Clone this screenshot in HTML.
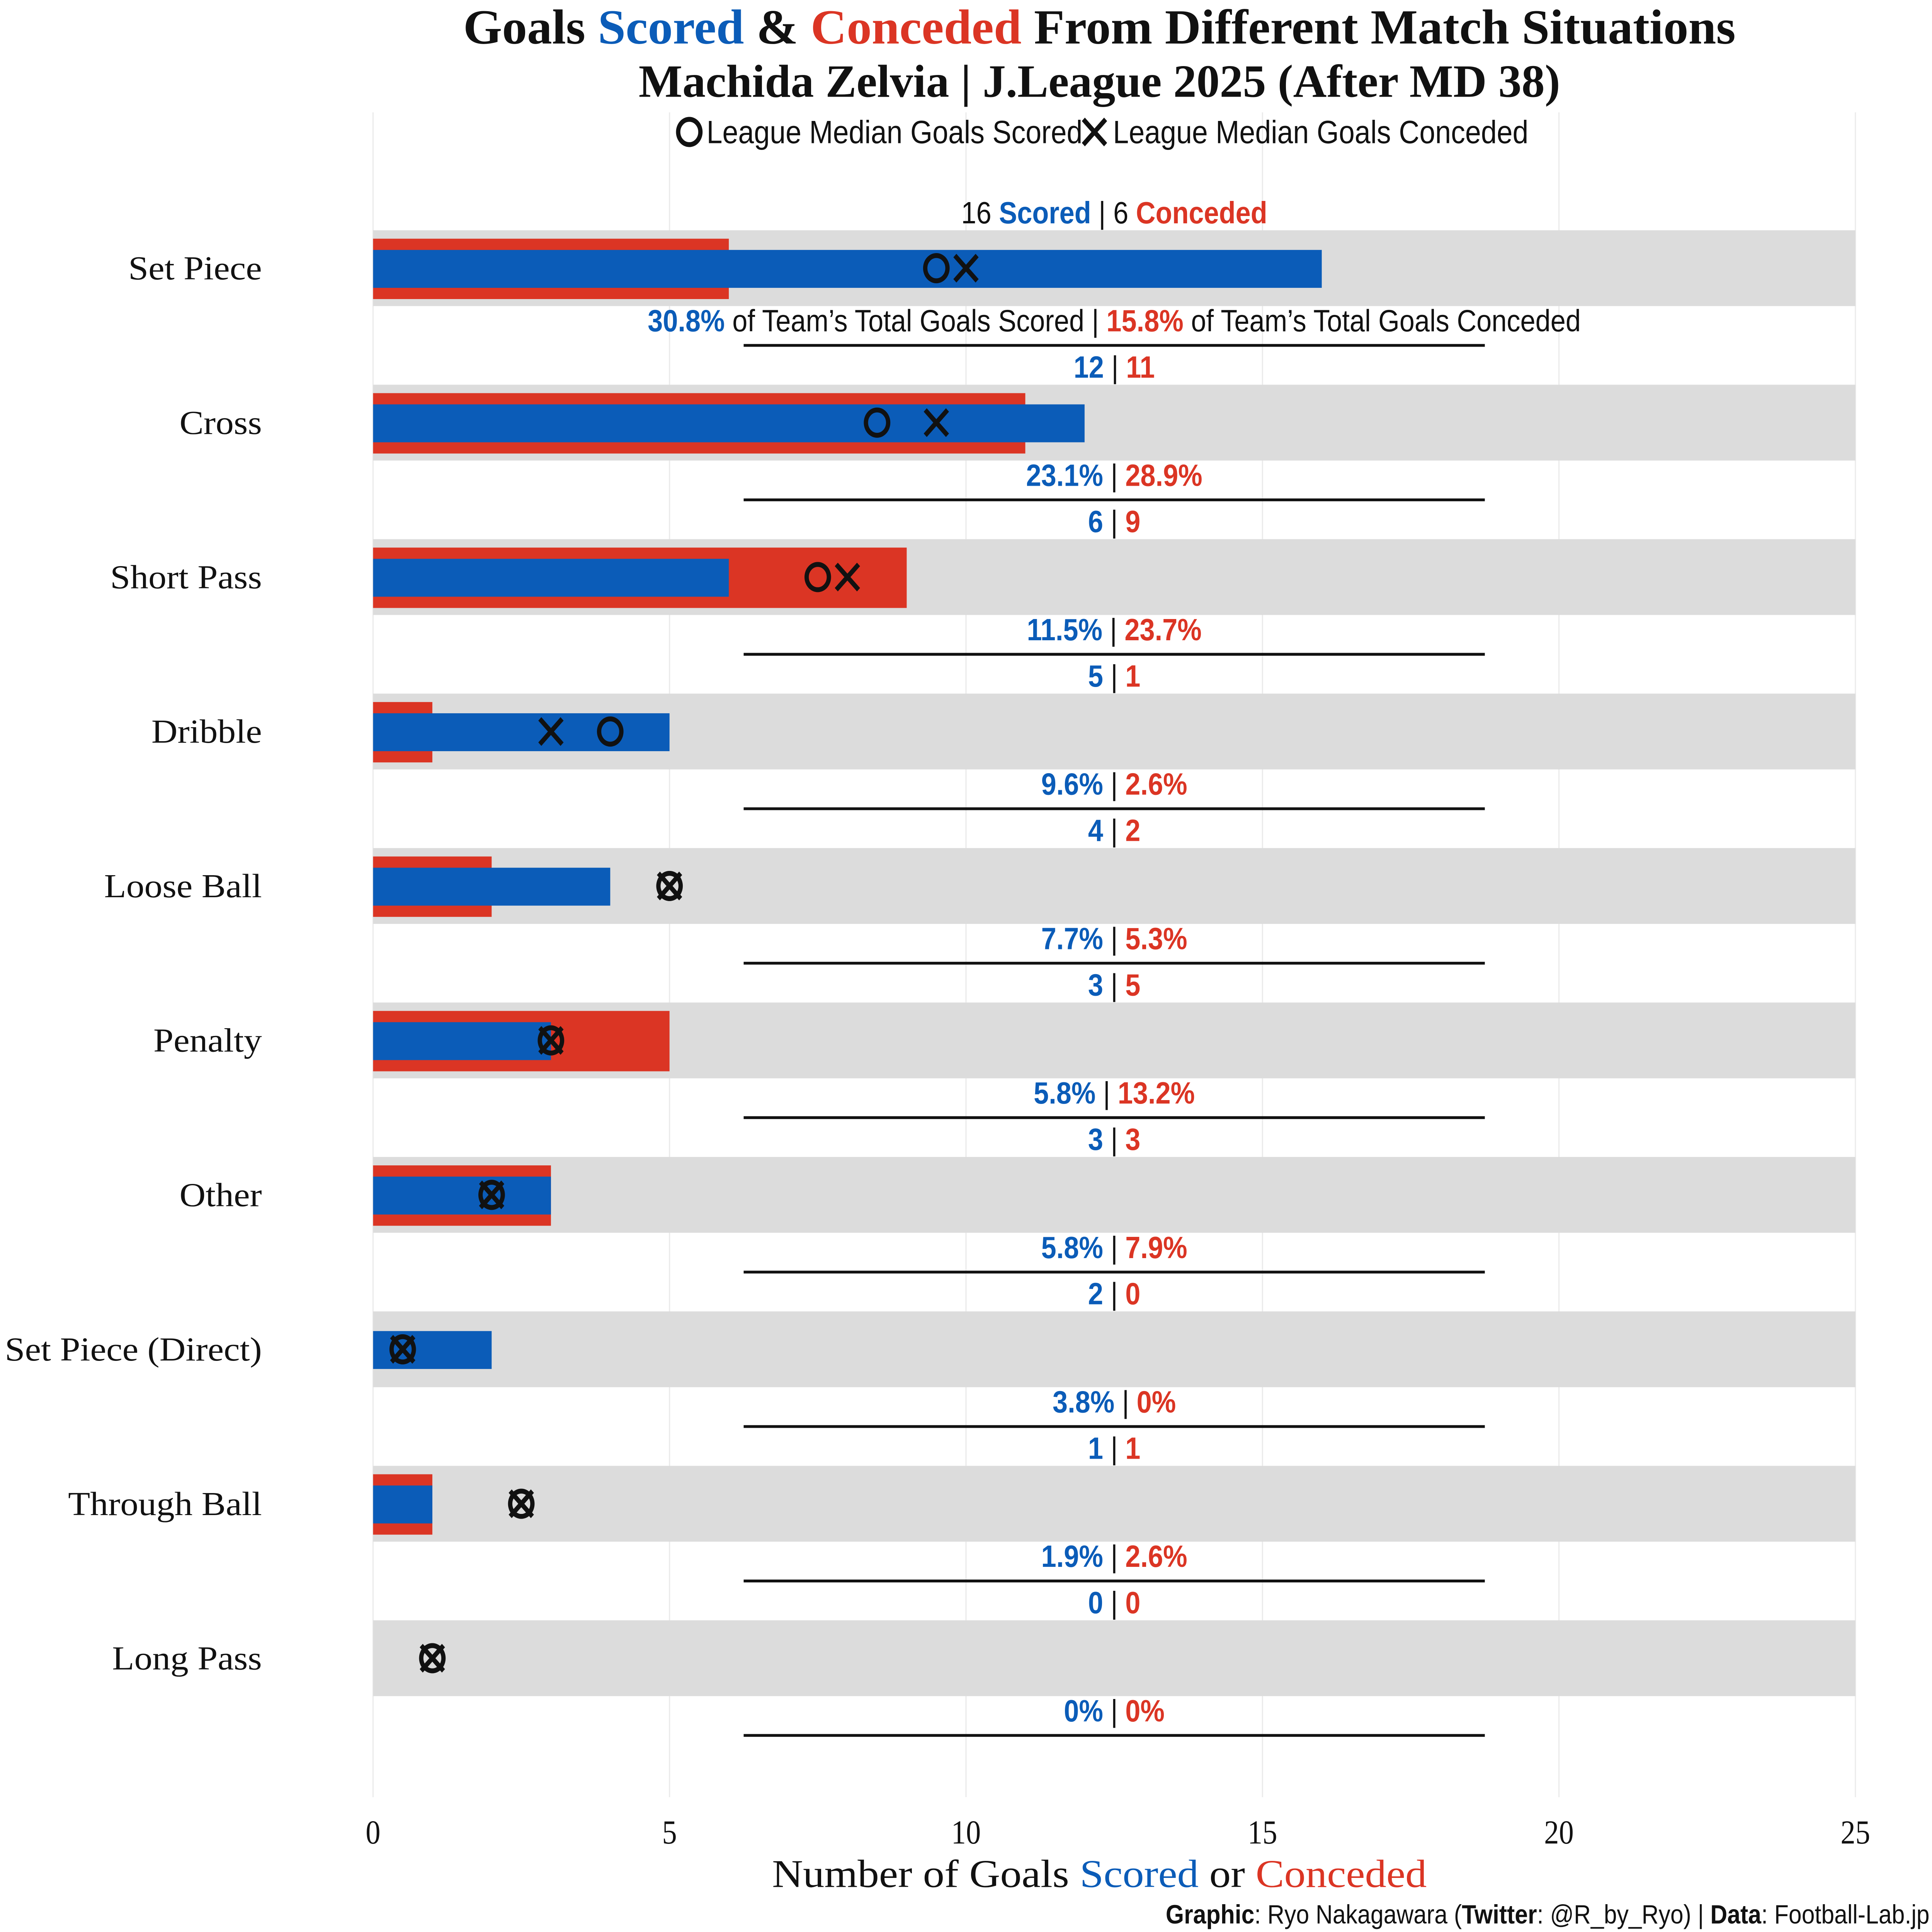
<!DOCTYPE html>
<html><head><meta charset="utf-8">
<style>
html,body{margin:0;padding:0;background:#fff;width:100%;height:100%;overflow:hidden;}
svg{display:block;width:100vw;height:100vh;}
.serif{font-family:"Liberation Serif","DejaVu Serif",serif;}
.cond{font-family:"Liberation Sans Narrow","Liberation Sans",sans-serif;}
</style></head>
<body>
<svg id="chart" viewBox="0 0 1564 1376" preserveAspectRatio="none" xmlns="http://www.w3.org/2000/svg">
<rect width="1564" height="1376" fill="#fff"/>
<g id="grid"></g>
<g id="rows"></g>
<text class="serif" x="890" y="31" text-anchor="middle" font-size="35" font-weight="bold" fill="#111" textLength="1030" lengthAdjust="spacingAndGlyphs">Goals <tspan fill="#0b5cb8">Scored</tspan> &amp; <tspan fill="#db3524">Conceded</tspan> From Different Match Situations</text>
<text class="serif" x="890" y="69" text-anchor="middle" font-size="33" font-weight="bold" fill="#111" textLength="746" lengthAdjust="spacingAndGlyphs">Machida Zelvia | J.League 2025 (After MD 38)</text>
<g>
<circle cx="558" cy="94" r="9" fill="none" stroke="#111" stroke-width="3.5"/>
<text class="cond" x="572" y="102" font-size="23" fill="#111">League Median Goals Scored</text>
<path d="M877 85 L895 103 M895 85 L877 103" stroke="#111" stroke-width="3.5"/>
<text class="cond" x="901" y="102" font-size="23" fill="#111">League Median Goals Conceded</text>
</g>
<text class="serif" x="890" y="1344" text-anchor="middle" font-size="28" fill="#111" textLength="530" lengthAdjust="spacingAndGlyphs">Number of Goals <tspan fill="#0b5cb8">Scored</tspan> or <tspan fill="#db3524">Conceded</tspan></text>
<text class="cond" x="1562" y="1370" text-anchor="end" font-size="19" fill="#111"><tspan font-weight="bold">Graphic</tspan>: Ryo Nakagawara (<tspan font-weight="bold">Twitter</tspan>: @R_by_Ryo) | <tspan font-weight="bold">Data</tspan>: Football-Lab.jp</text>
</svg>
<script>
const categories=["Set Piece","Cross","Short Pass","Dribble","Loose Ball","Penalty","Other","Set Piece (Direct)","Through Ball","Long Pass"];
const scored=[16,12,6,5,4,3,3,2,1,0];
const conceded=[6,11,9,1,2,5,3,0,1,0];
const medianScored=[9.5,8.5,7.5,4,5,3,2,0.5,2.5,1];
const medianConceded=[10,9.5,8,3,5,3,2,0.5,2.5,1];
const pctScored=["30.8%","23.1%","11.5%","9.6%","7.7%","5.8%","5.8%","3.8%","1.9%","0%"];
const pctConceded=["15.8%","28.9%","23.7%","2.6%","5.3%","13.2%","7.9%","0%","2.6%","0%"];
const xTicks=[0,5,10,15,20,25];

const NS="http://www.w3.org/2000/svg";
const BLUE="#0b5cb8",RED="#db3524";
const x=v=>302+v*48;
const y=i=>191+i*110;
function mk(tag,attrs,parent){const e=document.createElementNS(NS,tag);for(const k in attrs)e.setAttribute(k,attrs[k]);parent.appendChild(e);return e;}
const grid=document.getElementById('grid'),rows=document.getElementById('rows');
xTicks.forEach(t=>{
  let l=mk('line',{x1:x(t),x2:x(t),y1:80,y2:1280,stroke:'#ebebeb','stroke-width':1},grid);
  
  
  let tx=mk('text',{x:x(t),y:1313,'text-anchor':'middle','font-size':24,fill:'#111',class:'serif'},grid);
  tx.textContent=t;
  
  
});
categories.forEach((c,i)=>{
  const cy=y(i);
  let g=mk('g',{},rows);
  
  
  let bg=mk('rect',{x:x(0),y:cy-27,width:x(25)-x(0),height:54,fill:'#dcdcdc'},g);
  
  
  let lb=mk('text',{x:212,y:cy+8,'text-anchor':'end','font-size':24,fill:'#111',class:'serif'},g);
  lb.textContent=c;
  
  
  try{const w=lb.getComputedTextLength();if(w>0){lb.setAttribute('textLength',(w*1.22).toFixed(1));lb.setAttribute('lengthAdjust','spacingAndGlyphs');}}catch(e){}
  let rb=mk('rect',{x:x(0),y:cy-21,width:x(conceded[i])-x(0),height:43,fill:RED},g);
  
  
  let bb=mk('rect',{x:x(0),y:cy-13,width:x(scored[i])-x(0),height:27,fill:BLUE},g);
  
  
  let mc=mk('circle',{cx:x(medianScored[i]),cy:cy,r:9,fill:'none',stroke:'#111','stroke-width':3.5},g);
  
  
  const mx=x(medianConceded[i]);
  let mxp=mk('path',{d:`M${mx-9} ${cy-9} L${mx+9} ${cy+9} M${mx+9} ${cy-9} L${mx-9} ${cy+9}`,stroke:'#111','stroke-width':3.5},g);
  
  
  let ct=mk('text',{x:902,y:cy-32,'text-anchor':'middle','font-size':22,class:'cond',fill:'#111'},g);
  if(i===0){
    ct.innerHTML=`${scored[i]} <tspan fill="${BLUE}" font-weight="bold">Scored</tspan> | ${conceded[i]} <tspan fill="${RED}" font-weight="bold">Conceded</tspan>`;
  } else {
    ct.innerHTML=`<tspan fill="${BLUE}" font-weight="bold">${scored[i]}</tspan> | <tspan fill="${RED}" font-weight="bold">${conceded[i]}</tspan>`;
  }
  
  
  let pt=mk('text',{x:902,y:cy+45,'text-anchor':'middle','font-size':22,class:'cond',fill:'#111'},g);
  if(i===0){
    pt.innerHTML=`<tspan fill="${BLUE}" font-weight="bold">${pctScored[i]}</tspan> of Team’s Total Goals Scored | <tspan fill="${RED}" font-weight="bold">${pctConceded[i]}</tspan> of Team’s Total Goals Conceded`;
  } else {
    pt.innerHTML=`<tspan fill="${BLUE}" font-weight="bold">${pctScored[i]}</tspan> | <tspan fill="${RED}" font-weight="bold">${pctConceded[i]}</tspan>`;
  }
  
  
  let sl=mk('line',{x1:602,x2:1202,y1:cy+55,y2:cy+55,stroke:'#111','stroke-width':2},g);
  
  
});
</script>
</body></html>
